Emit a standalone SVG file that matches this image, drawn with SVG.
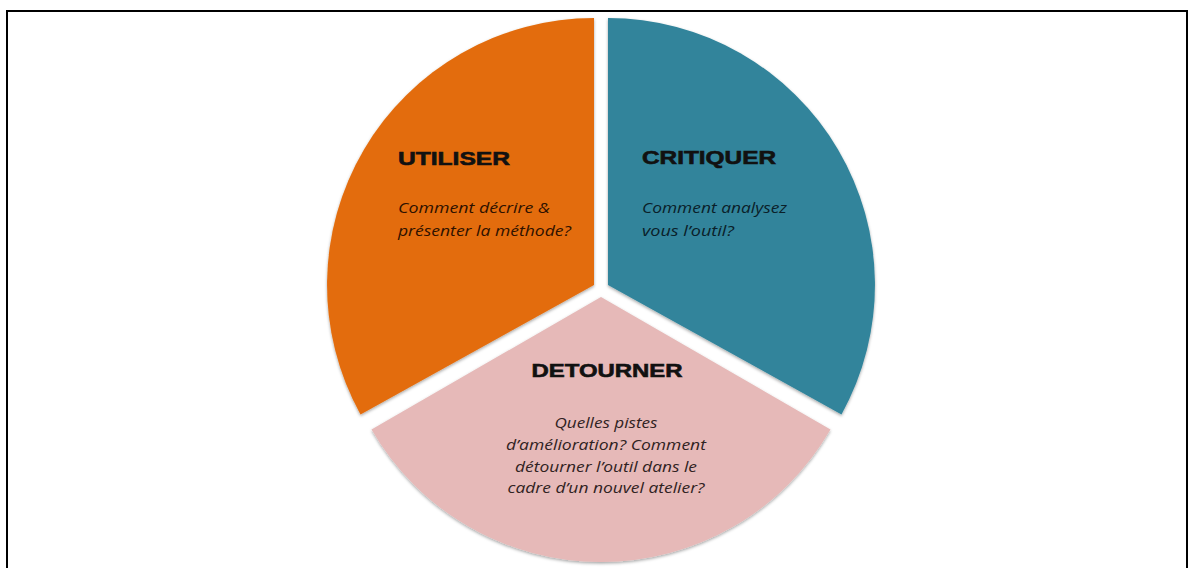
<svg xmlns="http://www.w3.org/2000/svg" width="1195" height="568" viewBox="0 0 1195 568">
  <defs>
    <filter id="shadow" x="-10%" y="-10%" width="120%" height="120%">
      <feDropShadow dx="0" dy="1.5" stdDeviation="1.5" flood-color="#000" flood-opacity="0.35"/>
    </filter>
    <style>
      .sector { filter: url(#shadow); }
      .head { font-family: "Liberation Sans", Arial, sans-serif; font-weight: bold; font-size: 19px; fill: #111; stroke: #111; stroke-width: 0.6px; }
      .body { font-family: "Open Sans", "Liberation Sans", sans-serif; font-style: italic; font-size: 14.5px; }
      .o-txt { fill: #2e1100; }
      .t-txt { fill: #0a2029; }
      .p-txt { fill: #302222; }
    </style>
  </defs>
  <rect x="7" y="11" width="1180" height="580" fill="none" stroke="#000" stroke-width="2"/>

  <g id="utiliser">
    <path class="sector" d="M 594 285 L 594 18 A 267 267 0 0 0 360.5 414.4 Z" fill="#E36C0A"/>
    <text class="head" x="398" y="165" textLength="112" lengthAdjust="spacingAndGlyphs">UTILISER</text>
    <text class="body o-txt" x="398" y="213" textLength="152" lengthAdjust="spacingAndGlyphs">Comment décrire &amp;</text>
    <text class="body o-txt" x="398" y="236" textLength="173" lengthAdjust="spacingAndGlyphs">présenter la méthode?</text>
  </g>

  <g id="critiquer">
    <path class="sector" d="M 608 285 L 608 18 A 267 267 0 0 1 841.5 414.4 Z" fill="#31849B"/>
    <text class="head" x="642" y="164" textLength="134" lengthAdjust="spacingAndGlyphs">CRITIQUER</text>
    <text class="body t-txt" x="642" y="213" textLength="145" lengthAdjust="spacingAndGlyphs">Comment analysez</text>
    <text class="body t-txt" x="642" y="236" textLength="92" lengthAdjust="spacingAndGlyphs">vous l’outil?</text>
  </g>

  <g id="detourner">
    <path class="sector" d="M 601 297 L 830.5 429.5 A 265 265 0 0 1 371.5 429.5 Z" fill="#E6B9B8"/>
    <text class="head" x="607" y="377" text-anchor="middle" textLength="151" lengthAdjust="spacingAndGlyphs">DETOURNER</text>
    <text class="body p-txt" x="606" y="428" text-anchor="middle" textLength="103" lengthAdjust="spacingAndGlyphs">Quelles pistes</text>
    <text class="body p-txt" x="606" y="450" text-anchor="middle" textLength="200" lengthAdjust="spacingAndGlyphs">d’amélioration? Comment</text>
    <text class="body p-txt" x="606" y="472" text-anchor="middle" textLength="182" lengthAdjust="spacingAndGlyphs">détourner l’outil dans le</text>
    <text class="body p-txt" x="606" y="493" text-anchor="middle" textLength="197" lengthAdjust="spacingAndGlyphs">cadre d’un nouvel atelier?</text>
  </g>

  <g id="connectors"/>
</svg>
